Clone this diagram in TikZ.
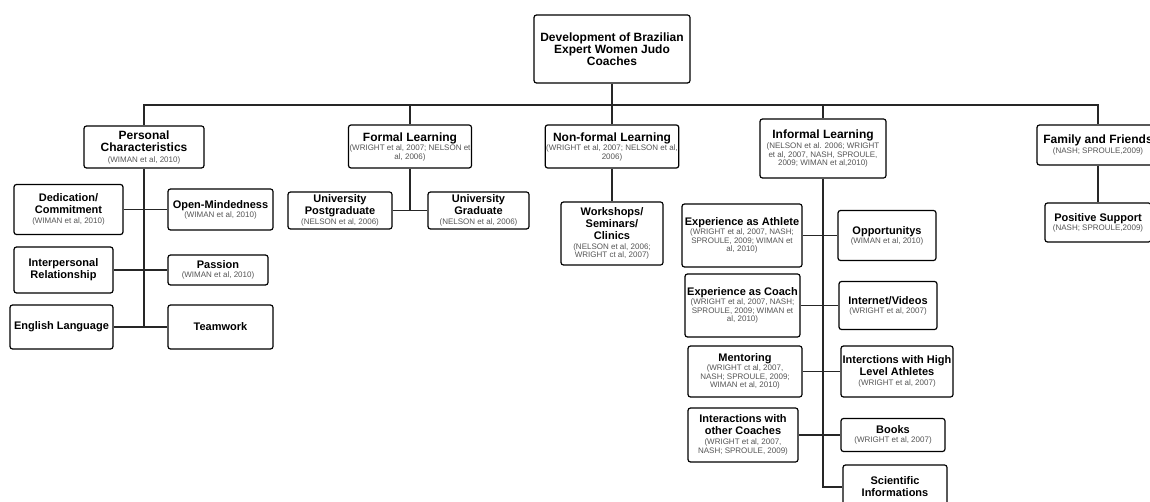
\documentclass[tikz,border=0pt]{standalone}
\usepackage{fontspec}
\setmainfont{Liberation Sans}
\usepackage{tikz}
\usepackage{xcolor}
\usetikzlibrary{calc}

\definecolor{citegray}{HTML}{555555}
\newcommand{\src}[1]{{\fontsize{8}{8.8}\selectfont\mdseries\color{citegray}#1}}

\begin{document}
\begin{tikzpicture}[x=1pt, y=-1pt,
    box/.style={draw, line width=1.2pt, rounded corners=2.5pt, align=center, inner sep=1pt, fill=white},
    head/.style={box, font=\fontsize{12}{12.5}\selectfont\bfseries},
    sub/.style={box, font=\fontsize{11}{12}\selectfont\bfseries},
    link/.style={line width=1.3pt, black!85}]
    \useasboundingbox (0,0) rectangle (1150,502);
    \clip (0,0) rectangle (1150,502);

    % Root
    \node[box, font=\fontsize{12}{12}\selectfont\bfseries, minimum width=156pt, minimum height=68pt] (top) at (612,49)
        {Development of Brazilian\\Expert Women Judo\\Coaches};

    % Main branches
    \node[head, minimum width=120pt, minimum height=42pt] (pers) at (144,147)
        {Personal\\Characteristics\\[-2pt]\src{(WIMAN et al, 2010)}};
    \node[head, minimum width=123pt, minimum height=43pt] (formal) at (410,146.5)
        {Formal Learning\\[-3pt]\src{(WRIGHT et al, 2007; NELSON et}\\[-4pt]\src{al, 2006)}};
    \node[head, minimum width=123pt, minimum height=43pt] (nonformal) at (612,146.5)
        {Non-formal Learning\\[-3pt]\src{(WRIGHT et al, 2007; NELSON et al,}\\[-4pt]\src{2006)}};
    \node[head, minimum width=126pt, minimum height=59pt] (informal) at (823,148.5)
        {Informal Learning\\[-2pt]\src{(NELSON et al. 2006; WRIGHT}\\[-4pt]\src{et al, 2007, NASH, SPROULE,}\\[-4pt]\src{2009; WIMAN et al,2010)}};
    \node[head, minimum width=122pt, minimum height=40pt] (family) at (1098,145)
        {Family and Friends\\[-3pt]\src{(NASH; SPROULE,2009)}};

    % Personal characteristics
    \node[sub, minimum width=109pt, minimum height=50pt] (dedic) at (68.5,209.5)
        {Dedication/\\Commitment\\[-2pt]\src{(WIMAN et al, 2010)}};
    \node[sub, minimum width=105pt, minimum height=41pt] (openm) at (220.5,209.5)
        {Open-Mindedness\\[-3pt]\src{(WIMAN et al, 2010)}};
    \node[sub, minimum width=99pt, minimum height=46pt] (interp) at (63.5,270)
        {Interpersonal\\Relationship};
    \node[sub, minimum width=100pt, minimum height=30pt] (passion) at (218,270)
        {Passion\\[-3pt]\src{(WIMAN et al, 2010)}};
    \node[sub, minimum width=103pt, minimum height=44pt] (english) at (61.5,327)
        {English Language};
    \node[sub, minimum width=105pt, minimum height=44pt] (teamwork) at (220.5,327)
        {Teamwork};

    % Formal learning
    \node[sub, minimum width=104pt, minimum height=37pt] (postgrad) at (340,210.5)
        {University\\Postgraduate\\[-2pt]\src{(NELSON et al, 2006)}};
    \node[sub, minimum width=101pt, minimum height=37pt] (grad) at (478.5,210.5)
        {University\\Graduate\\[-2pt]\src{(NELSON et al, 2006)}};

    % Non-formal learning
    \node[sub, minimum width=102pt, minimum height=63pt] (workshops) at (612,233.5)
        {Workshops/\\Seminars/\\Clinics\\[-2pt]\src{(NELSON et al, 2006;}\\[-3.5pt]\src{WRIGHT ct al, 2007)}};

    % Informal learning
    \node[sub, minimum width=120pt, minimum height=63pt] (athlete) at (742,235.5)
        {Experience as Athlete\\[-3pt]\src{(WRIGHT et al, 2007, NASH;}\\[-3.5pt]\src{SPROULE, 2009; WIMAN et}\\[-3.5pt]\src{al, 2010)}};
    \node[sub, minimum width=98pt, minimum height=50pt] (opport) at (887,235.5)
        {Opportunitys\\[-3pt]\src{(WIMAN et al, 2010)}};
    \node[sub, minimum width=115pt, minimum height=63pt] (coach) at (742.5,305.5)
        {Experience as Coach\\[-3pt]\src{(WRIGHT et al, 2007, NASH;}\\[-3.5pt]\src{SPROULE, 2009; WIMAN et}\\[-3.5pt]\src{al, 2010)}};
    \node[sub, minimum width=98pt, minimum height=48pt] (internet) at (888,305.5)
        {Internet/Videos\\[-3pt]\src{(WRIGHT et al, 2007)}};
    \node[sub, minimum width=114pt, minimum height=51pt] (mentoring) at (745,371.5)
        {Mentoring\\[-3pt]\src{(WRIGHT ct al, 2007,}\\[-3.5pt]\src{NASH; SPROULE, 2009;}\\[-3.5pt]\src{WIMAN et al, 2010)}};
    \node[sub, minimum width=112pt, minimum height=51pt] (highlevel) at (897,371.5)
        {Interctions with High\\Level Athletes\\[-2pt]\src{(WRIGHT et al, 2007)}};
    \node[sub, minimum width=110pt, minimum height=54pt] (othercoaches) at (743,435)
        {Interactions with\\other Coaches\\[-2pt]\src{(WRIGHT et al, 2007,}\\[-3.5pt]\src{NASH; SPROULE, 2009)}};
    \node[sub, minimum width=104pt, minimum height=33pt] (books) at (893,435)
        {Books\\[-3pt]\src{(WRIGHT et al, 2007)}};
    \node[sub, minimum width=104pt, minimum height=44pt] (scientific) at (895,487)
        {Scientific\\Informations};

    % Family and friends
    \node[sub, minimum width=106pt, minimum height=39pt] (positive) at (1098,222.5)
        {Positive Support\\[-3pt]\src{(NASH; SPROULE,2009)}};

    % Bus under the root
    \coordinate (busL) at (144,105);
    \coordinate (busR) at (1098,105);
    \draw[link] (top) -- (top |- busL);
    \draw[link] (pers) -- (busL) -- (busR) -- (family);
    \draw[link] (formal) -- (formal |- busL);
    \draw[link] (nonformal) -- (nonformal |- busL);
    \draw[link] (informal) -- (informal |- busL);

    % Stems and cross links
    \draw[link] (pers) -- (pers |- english);
    \draw[link] (dedic) -- (openm);
    \draw[link] (interp) -- (passion);
    \draw[link] (english) -- (teamwork);
    \draw[link] (formal) -- (formal |- postgrad);
    \draw[link] (postgrad) -- (grad);
    \draw[link] (nonformal) -- (workshops);
    \draw[link] (informal) -- (informal |- scientific) -- (scientific);
    \draw[link] (athlete) -- (opport);
    \draw[link] (coach) -- (internet);
    \draw[link] (mentoring) -- (highlevel);
    \draw[link] (othercoaches) -- (books);
    \draw[link] (family) -- (positive);
\end{tikzpicture}
\end{document}
